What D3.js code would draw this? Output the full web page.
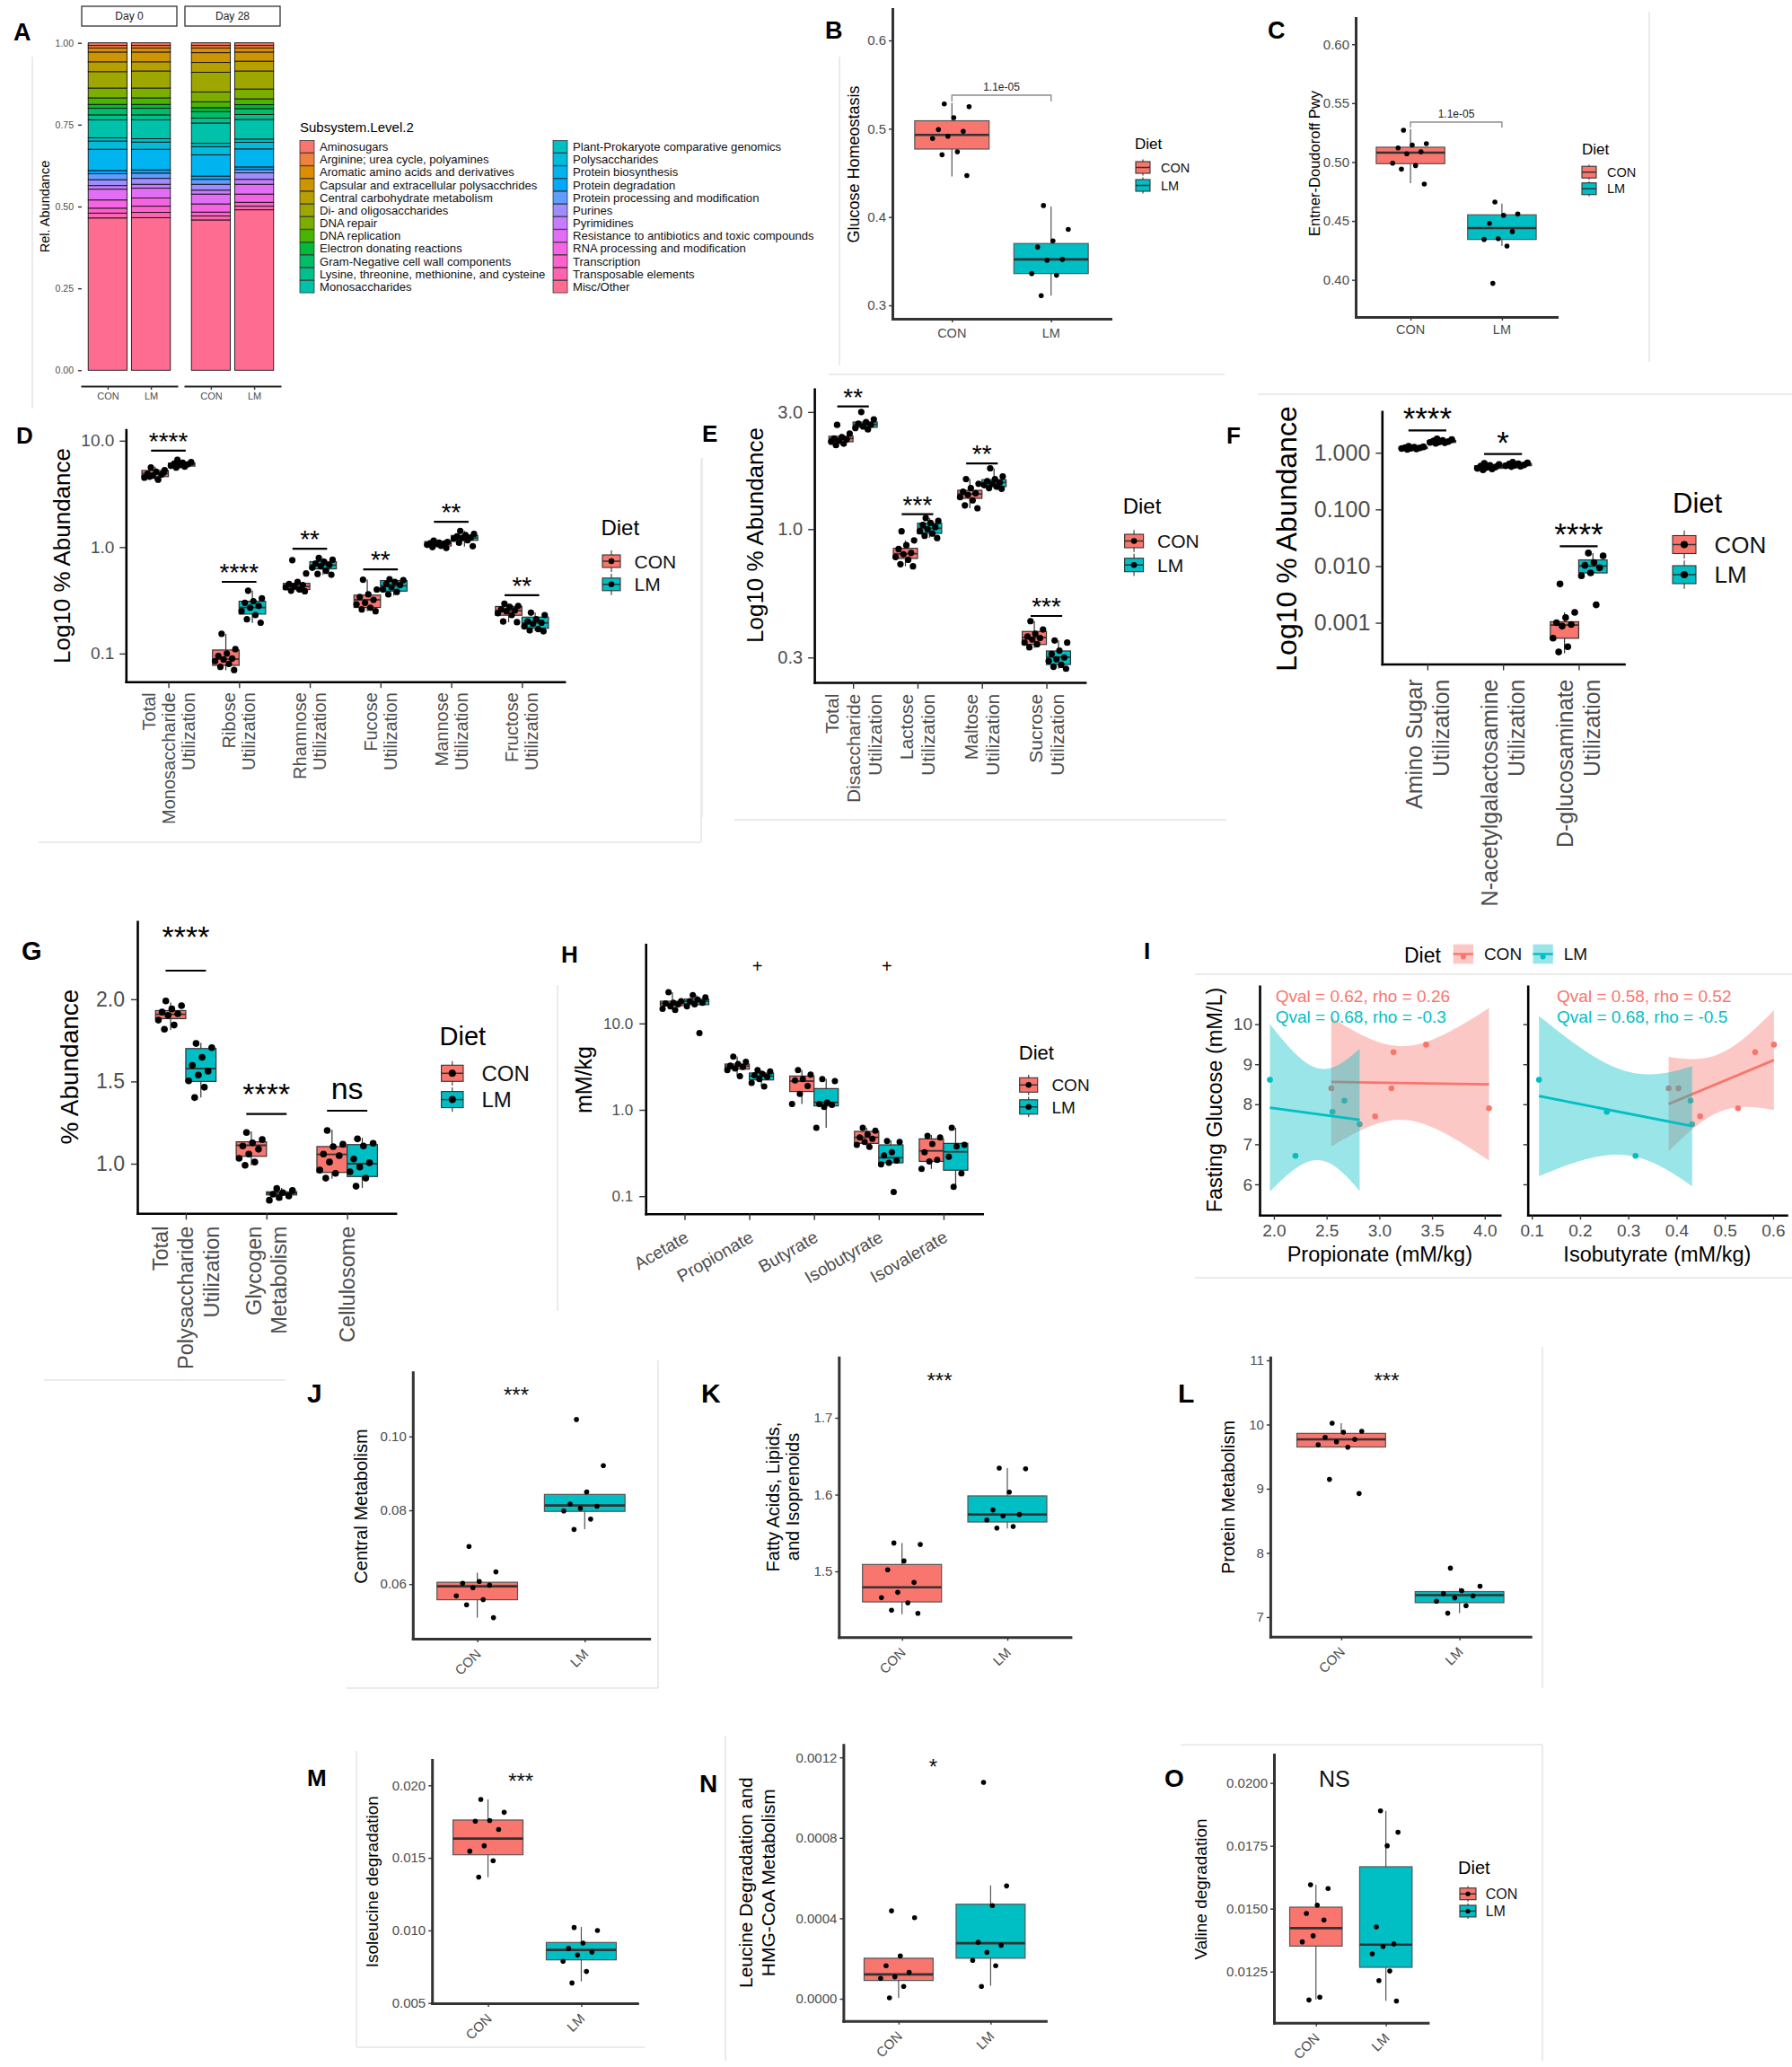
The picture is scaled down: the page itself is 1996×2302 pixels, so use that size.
<!DOCTYPE html>
<html lang="en">
<head>
<meta charset="UTF-8">
<title>Diet and gut microbiome functional profiles</title>
<style>
  html, body { margin: 0; padding: 0; background: #ffffff; }
  svg text { font-family: "Liberation Sans", Arial, Helvetica, sans-serif; }
</style>
</head>
<body>
<div id="fig"></div>
<script src="https://d3js.org/d3.v7.min.js"></script>
<script>
// ---------------- data ----------------
const diets = ["CON", "LM"];

// A: subsystem level 2 relative abundance (top of stack first)
const subsystems = [
  "Aminosugars", "Arginine; urea cycle, polyamines", "Aromatic amino acids and derivatives",
  "Capsular and extracellular polysacchrides", "Central carbohydrate metabolism", "Di- and oligosaccharides",
  "DNA repair", "DNA replication", "Electron donating reactions", "Gram-Negative cell wall components",
  "Lysine, threonine, methionine, and cysteine", "Monosaccharides", "Plant-Prokaryote comparative genomics",
  "Polysaccharides", "Protein biosynthesis", "Protein degradation", "Protein processing and modification",
  "Purines", "Pyrimidines", "Resistance to antibiotics and toxic compounds", "RNA processing and modification",
  "Transcription", "Transposable elements", "Misc/Other"
];
const aDays = ["Day 0", "Day 28"];
const relAbundDay0CON  = [0.008,0.008,0.012,0.030,0.030,0.050,0.030,0.020,0.012,0.020,0.015,0.055,0.010,0.025,0.065,0.010,0.018,0.018,0.011,0.033,0.025,0.015,0.015,0.465];
const relAbundDay0LM   = [0.008,0.008,0.012,0.030,0.028,0.052,0.030,0.020,0.012,0.020,0.015,0.058,0.010,0.022,0.063,0.010,0.016,0.018,0.012,0.030,0.025,0.019,0.016,0.466];
const relAbundDay28CON = [0.008,0.008,0.014,0.030,0.030,0.060,0.030,0.018,0.012,0.020,0.015,0.062,0.010,0.025,0.065,0.010,0.015,0.018,0.012,0.030,0.025,0.012,0.012,0.459];
const relAbundDay28LM  = [0.008,0.008,0.012,0.028,0.030,0.055,0.030,0.018,0.012,0.018,0.015,0.060,0.010,0.020,0.055,0.008,0.010,0.020,0.015,0.030,0.025,0.012,0.011,0.490];
const aTicks = [0, 0.25, 0.5, 0.75, 1];

// B: glucose homeostasis
const bBoxCON = [0.446, 0.477, 0.493, 0.509, 0.529];
const bBoxLM  = [0.311, 0.336, 0.352, 0.370, 0.412];
const bPtsCON = [0.528, 0.525, 0.5125, 0.499, 0.497, 0.4915, 0.489, 0.474, 0.4705, 0.447];
const bPtsLM  = [0.413, 0.386, 0.373, 0.366, 0.352, 0.351, 0.336, 0.334, 0.311];
const bTicks = [0.3, 0.4, 0.5, 0.6];

// C: Entner-Doudoroff pathway
const cBoxCON = [0.482, 0.4986, 0.508, 0.5126, 0.528];
const cBoxLM  = [0.4287, 0.4343, 0.444, 0.4552, 0.4648];
const cPtsCON = [0.527, 0.5156, 0.5144, 0.512, 0.5087, 0.507, 0.499, 0.497, 0.494, 0.4813];
const cPtsLM  = [0.466, 0.456, 0.4548, 0.448, 0.441, 0.435, 0.4343, 0.4287, 0.397];
const cTicks = [0.40, 0.45, 0.50, 0.55, 0.60];
const pvalBC = "1.1e-05";

// D: monosaccharide utilization (box = [lo, q1, median, q3, hi])
const dLabels = [["Total", "Monosaccharide", "Utilization"], ["Ribose", "Utilization"], ["Rhamnose", "Utilization"],
                 ["Fucose", "Utilization"], ["Mannose", "Utilization"], ["Fructose", "Utilization"]];
const dBoxCON = [[4.21,4.6,4.91,5.25,5.69],[0.0697,0.0775,0.0887,0.108,0.153],[0.385,0.40,0.427,0.457,0.47],
                 [0.25,0.271,0.32,0.354,0.495],[0.98,1.026,1.084,1.128,1.15],[0.197,0.229,0.253,0.277,0.294]];
const dBoxLM  = [[5.6,5.77,5.97,6.17,6.6],[0.194,0.235,0.271,0.31,0.39],[0.548,0.625,0.677,0.73,0.79],
                 [0.35,0.386,0.433,0.485,0.495],[1.01,1.158,1.222,1.288,1.42],[0.162,0.173,0.194,0.22,0.242]];
const dPtsCON = [[5.6,5.3,5.1,4.9,4.8,4.7,4.5,4.3,4.6,5.0],[0.153,0.11,0.10,0.095,0.09,0.088,0.085,0.08,0.075,0.07],
                 [0.755,0.566,0.47,0.45,0.44,0.43,0.42,0.40,0.39,0.385],[0.495,0.40,0.36,0.34,0.32,0.30,0.29,0.27,0.26,0.25],
                 [1.15,1.12,1.10,1.09,1.08,1.07,1.05,1.03,1.0,0.98],[0.294,0.28,0.275,0.26,0.255,0.25,0.24,0.23,0.20,0.197]];
const dPtsLM  = [[6.6,6.3,6.2,6.1,6.0,5.9,5.8,5.7,5.6],[0.39,0.33,0.31,0.30,0.28,0.27,0.25,0.23,0.21,0.195],
                 [0.79,0.76,0.73,0.70,0.68,0.66,0.64,0.60,0.56,0.55],[0.50,0.49,0.47,0.45,0.44,0.42,0.40,0.38,0.36],
                 [1.42,1.33,1.30,1.26,1.23,1.22,1.20,1.16,1.10,1.02],[0.242,0.23,0.21,0.20,0.195,0.19,0.18,0.17,0.165,0.162]];
const dSig = ["****", "****", "**", "**", "**", "**"];
const dSigY = [8.06, 0.472, 0.967, 0.618, 1.73, 0.354];

// E: disaccharide utilization
const eLabels = [["Total", "Disaccharide", "Utilization"], ["Lactose", "Utilization"], ["Maltose", "Utilization"], ["Sucrose", "Utilization"]];
const eBoxCON = [[2.2,2.27,2.34,2.39,2.45],[0.706,0.76,0.794,0.835,0.90],[1.217,1.335,1.39,1.44,1.60],[0.328,0.339,0.362,0.383,0.422]];
const eBoxLM  = [[2.55,2.6,2.67,2.73,2.8],[0.922,0.961,1.008,1.057,1.11],[1.46,1.49,1.55,1.59,1.77],[0.27,0.281,0.301,0.319,0.352]];
const ePtsCON = [[2.66,2.45,2.37,2.34,2.32,2.29,2.27,2.23,2.2],[0.98,0.90,0.86,0.83,0.80,0.79,0.77,0.75,0.72,0.706],
                 [1.60,1.53,1.47,1.42,1.40,1.38,1.35,1.31,1.25,1.217],[0.422,0.39,0.375,0.365,0.36,0.355,0.345,0.34,0.33]];
const ePtsLM  = [[3.0,2.8,2.73,2.69,2.66,2.62,2.58,2.55],[1.11,1.08,1.06,1.04,1.02,1.0,0.98,0.96,0.94,0.92],
                 [1.77,1.64,1.60,1.57,1.55,1.53,1.51,1.49,1.47,1.46],[0.352,0.345,0.32,0.31,0.30,0.295,0.29,0.28,0.275,0.27]];
const eSig = ["**", "***", "**", "***"];
const eSigY = [3.16, 1.15, 1.853, 0.443];

// F: amino sugar utilization
const fLabels = [["Amino Sugar", "Utilization"], ["N-acetylgalactosamine", "Utilization"], ["D-glucosaminate", "Utilization"]];
const fBoxCON = [[1.13,1.18,1.22,1.27,1.32],[0.50,0.53,0.556,0.59,0.65],[0.00029,0.000533,0.000907,0.00104,0.00152]];
const fBoxLM  = [[1.45,1.52,1.585,1.65,1.75],[0.56,0.59,0.614,0.645,0.68],[0.0068,0.00757,0.01,0.01286,0.017]];
const fPtsCON = [[1.3,1.27,1.25,1.23,1.22,1.2,1.19,1.17,1.15],[0.65,0.62,0.6,0.58,0.56,0.55,0.53,0.52,0.5],
                 [0.00484,0.00152,0.00123,0.001,0.00093,0.00087,0.000533,0.000377,0.000305]];
const fPtsLM  = [[1.75,1.7,1.65,1.62,1.58,1.55,1.52,1.5,1.47],[0.68,0.66,0.64,0.63,0.61,0.6,0.59,0.58,0.57],
                 [0.017,0.0152,0.0115,0.0103,0.00933,0.00757,0.00677,0.00207]];
const fSig = ["****", "*", "****"];
const fSigY = [2.48, 0.947, 0.0224];

// G: polysaccharide utilization
const gLabels = [["Total", "Polysaccharide", "Utilization"], ["Glycogen", "Metabolism"], ["Cellulosome"]];
const gBoxCON = [[1.814,1.882,1.908,1.931,1.98],[0.99,1.045,1.112,1.133,1.196],[0.908,0.947,1.057,1.104,1.206]];
const gBoxLM  = [[1.402,1.5,1.578,1.7,1.735],[0.778,0.81,0.82,0.829,0.853],[0.853,0.922,1.0,1.116,1.157]];
const gPtsCON = [[1.99,1.961,1.941,1.922,1.912,1.902,1.873,1.843,1.818],[1.19,1.147,1.127,1.108,1.088,1.059,1.033,1.01,0.99],
                 [1.202,1.118,1.104,1.059,1.049,1.01,0.961,0.941,0.912]];
const gPtsLM  = [[1.731,1.706,1.647,1.598,1.563,1.539,1.504,1.465,1.402],[0.849,0.837,0.824,0.814,0.804,0.794,0.778],
                 [1.151,1.124,1.108,1.029,1.006,0.98,0.951,0.912,0.863]];
const gSig = ["****", "****", "ns"];
const gSigY = [2.174, 1.302, 1.322];
const gSigLabelY = [2.317, 1.362, 1.391];

// H: short-chain fatty acids
const hCats = ["Acetate", "Propionate", "Butyrate", "Isobutyrate", "Isovalerate"];
const hBoxCON = [[14.3,16.1,17.1,18.1,23.0],[2.46,2.96,3.21,3.39,4.14],[1.17,1.63,2.15,2.46,2.89],[0.372,0.409,0.48,0.563,0.62],[0.207,0.253,0.335,0.461,0.512]];
const hBoxLM  = [[16.2,16.5,18.1,19.2,21.3],[1.86,2.22,2.46,2.67,2.89],[0.62,1.11,1.22,1.76,2.28],[0.234,0.2435,0.279,0.393,0.443],[0.1286,0.2,0.327,0.409,0.62]];
const hPtsCON = [[23.0,18.1,17.4,17.1,16.7,15.8,14.8,14.3],[4.14,3.59,3.39,3.26,3.13,3.01,2.89,2.46],[2.89,2.56,2.27,2.19,1.89,1.53,1.17],
                 [0.62,0.572,0.52,0.48,0.461,0.426,0.393,0.372],[0.5,0.48,0.403,0.322,0.264,0.253,0.207]];
const hPtsLM  = [[21.3,20.1,18.9,18.1,17.4,16.7,15.8,7.72],[2.89,2.78,2.61,2.52,2.41,2.27,2.05,1.86],[2.27,2.15,1.22,1.17,1.14,1.08,0.62],
                 [0.436,0.426,0.322,0.297,0.258,0.2435,0.234,0.112],[0.62,0.393,0.378,0.286,0.184,0.1286]];
const hSig = ["", "+", "", "+", ""];
const hSigY = [38.7, 38.7, 38.7, 38.7, 38.7];

// I: fasting glucose vs SCFA
const iGluCON  = [8.4, 8.4, 9.3, 9.49, 7.7, 7.9];
const iPropCON = [2.544, 3.115, 3.134, 3.444, 2.96, 4.04];
const iIsoCON  = [0.3835, 0.404, 0.5628, 0.6017, 0.4488, 0.5273];
const iGluLM   = [8.61, 7.81, 6.71, 8.09, 7.5];
const iPropLM  = [1.962, 2.556, 2.204, 2.669, 2.813];
const iIsoLM   = [0.1149, 0.2554, 0.3149, 0.4289, 0.4322];
const iGluTicks = [6, 7, 8, 9, 10];
const iPropTicks = [2.0, 2.5, 3.0, 3.5, 4.0];
const iIsoTicks = [0.1, 0.2, 0.3, 0.4, 0.5, 0.6];
const iStatsProp = ["Qval = 0.62, rho = 0.26", "Qval = 0.68, rho = -0.3"];
const iStatsIso  = ["Qval = 0.58, rho = 0.52", "Qval = 0.68, rho = -0.5"];

// J-O: level-1 / amino acid pathways
const jBoxCON = [0.0509, 0.05576, 0.0594, 0.0605, 0.0631];
const jBoxLM  = [0.0749, 0.0797, 0.0813, 0.0843, 0.0851];
const jPtsCON = [0.0702, 0.0633, 0.0607, 0.0602, 0.0597, 0.059, 0.0568, 0.0558, 0.0544, 0.0509];
const jPtsLM  = [0.1046, 0.0921, 0.085, 0.0817, 0.0811, 0.0805, 0.0798, 0.0776, 0.0748];
const jTicks = [0.06, 0.08, 0.10];

const kBoxCON = [1.4442, 1.4602, 1.4793, 1.509, 1.537];
const kBoxLM  = [1.5558, 1.5643, 1.5741, 1.5983, 1.6345];
const kPtsCON = [1.537, 1.535, 1.5136, 1.502, 1.4856, 1.4727, 1.4657, 1.459, 1.4493, 1.4454];
const kPtsLM  = [1.6345, 1.6337, 1.6033, 1.58, 1.5741, 1.5722, 1.567, 1.5585, 1.5565];
const kTicks = [1.5, 1.6, 1.7];

const lBoxCON = [9.64, 9.65, 9.768, 9.862, 10.02];
const lBoxLM  = [7.061, 7.225, 7.342, 7.398, 7.459];
const lPtsCON = [10.02, 9.894, 9.88, 9.8, 9.768, 9.73, 9.684, 9.646, 9.145, 8.925];
const lPtsLM  = [7.763, 7.482, 7.412, 7.365, 7.33, 7.3, 7.248, 7.178, 7.061];
const lTicks = [7, 8, 9, 10, 11];

const mBoxCON = [0.013666, 0.015213, 0.016328, 0.017607, 0.01903];
const mBoxLM  = [0.006486, 0.007971, 0.008652, 0.009168, 0.010241];
const mPtsCON = [0.01903, 0.01814, 0.01757, 0.01753, 0.01695, 0.01583, 0.01546, 0.0148, 0.01367];
const mPtsLM  = [0.0102, 0.00999, 0.00913, 0.00876, 0.00851, 0.0083, 0.00787, 0.00717, 0.00638];
const mTicks = [0.005, 0.010, 0.015, 0.020];

const nBoxCON = [0.0000045, 0.000091, 0.0001209, 0.0002015, 0.0002179];
const nBoxLM  = [0.0000642, 0.0002015, 0.0002761, 0.00047, 0.000564];
const nPtsCON = [0.000437, 0.000403, 0.0002134, 0.0001642, 0.0001313, 0.000109, 0.0001015, 0.0000612, 0.0000045];
const nPtsLM  = [0.001076, 0.000561, 0.000463, 0.0002806, 0.0002657, 0.0002313, 0.000191, 0.0001642, 0.0000612];
const nTicks = [0, 0.0004, 0.0008, 0.0012];

const oBoxCON = [0.011393, 0.013512, 0.014226, 0.01506, 0.015952];
const oBoxLM  = [0.011333, 0.012667, 0.013571, 0.016667, 0.018893];
const oPtsCON = [0.01595, 0.0158, 0.01514, 0.01481, 0.01455, 0.01392, 0.01368, 0.01148, 0.01137];
const oPtsLM  = [0.01889, 0.01804, 0.0175, 0.01427, 0.0136, 0.0135, 0.0132, 0.01252, 0.01214, 0.01133];
const oTicks = [0.0125, 0.0150, 0.0175, 0.0200];

// ---------------- helpers ----------------
const TXT = "#4D4D4D";
const dietColor = d3.scaleOrdinal().domain(diets).range(["#F8766D", "#00BFC4"]);
const T975 = [NaN, 12.706, 4.303, 3.182, 2.776, 2.571, 2.447, 2.365, 2.306];

const svg = d3.select("#fig").append("svg")
    .attr("width", 1996)
    .attr("height", 2302);
svg.append("rect").attr("width", 1996).attr("height", 2302).attr("fill", "#fff");

// ggplot-style hue palette (polar LUV -> sRGB)
function hueLUV(h, c, l) {
    const WX = 95.047, WY = 100, WZ = 108.883;
    const un = 4 * WX / (WX + 15 * WY + 3 * WZ), vn = 9 * WY / (WX + 15 * WY + 3 * WZ);
    const hr = h * Math.PI / 180;
    const Y = l > 8 ? WY * Math.pow((l + 16) / 116, 3) : WY * l / 903.3;
    const u = c * Math.cos(hr) / (13 * l) + un, v = c * Math.sin(hr) / (13 * l) + vn;
    const X = 9 * Y * u / (4 * v), Z = Y * (12 - 3 * u - 20 * v) / (4 * v);
    const gam = t => {
        t = t <= 0.0031308 ? 12.92 * t : 1.055 * Math.pow(t, 1 / 2.4) - 0.055;
        return Math.round(255 * Math.max(0, Math.min(1, t)));
    };
    return d3.rgb(gam((3.240479 * X - 1.537150 * Y - 0.498535 * Z) / 100),
                  gam((-0.969256 * X + 1.875992 * Y + 0.041556 * Z) / 100),
                  gam((0.055648 * X - 0.204043 * Y + 1.057311 * Z) / 100)).formatHex();
}

const jitter = i => ((i * 0.618034 + 0.31) % 1) * 2 - 1;

function faint(x1, y1, x2, y2) {
    svg.append("line").attr("x1", x1).attr("y1", y1).attr("x2", x2).attr("y2", y2)
        .attr("stroke", "#ebebeb").attr("stroke-width", 2);
}

function styleAxis(a, o) {
    a.attr("font-size", null).attr("font-family", null);
    a.select(".domain").attr("stroke", o.axisColor).attr("stroke-width", o.axisW).attr("stroke-linecap", "square");
    a.selectAll(".tick line").attr("stroke", "#333").attr("stroke-width", 1.4);
    a.selectAll(".tick text").attr("font-size", o.tickFont).attr("fill", TXT);
}

function dietLegend(g, L) {
    g.append("text").attr("x", L.titleX).attr("y", L.titleY)
        .attr("font-size", L.titleSize).attr("fill", "#000").text("Diet");
    diets.forEach((d, i) => {
        const cy = L.keyY + i * L.step, cx = L.x + L.keyW / 2;
        const ext = L.step / 2 - 1;
        g.append("line").attr("x1", cx).attr("x2", cx).attr("y1", cy - ext).attr("y2", cy + ext)
            .attr("stroke", "#333").attr("stroke-width", 1.1);
        g.append("rect").attr("x", L.x).attr("y", cy - L.keyH / 2).attr("width", L.keyW).attr("height", L.keyH)
            .attr("fill", dietColor(d)).attr("stroke", "#333").attr("stroke-width", 1.1);
        g.append("line").attr("x1", L.x).attr("x2", L.x + L.keyW).attr("y1", cy).attr("y2", cy)
            .attr("stroke", "#333").attr("stroke-width", 1.5);
        if (L.dot) g.append("circle").attr("cx", cx).attr("cy", cy).attr("r", L.dot).attr("fill", "#000");
        g.append("text").attr("x", L.labelX).attr("y", cy).attr("dy", "0.36em")
            .attr("font-size", L.labelSize).attr("fill", "#111").text(d);
    });
}

function boxPanel(o) {
    const g = svg.append("g");
    const nCats = o.dodge ? o.boxes.CON.length : 2;
    const y = (o.log ? d3.scaleLog() : d3.scaleLinear()).domain(o.domain).range([o.y1, o.y0]);
    const x = d3.scalePoint().domain(d3.range(nCats)).range([o.x0, o.x1]).padding(0.6);
    const step = x.step();

    // axes
    const gy = g.append("g").attr("transform", `translate(${o.x0},0)`)
        .call(d3.axisLeft(y).tickValues(o.ticks).tickFormat(d3.format(o.fmt))
            .tickSize(o.tickLen).tickPadding(o.tickPad).tickSizeOuter(0));
    const gx = g.append("g").attr("transform", `translate(0,${o.y1})`)
        .call(d3.axisBottom(x).tickFormat("").tickSize(o.tickLen).tickSizeOuter(0));
    styleAxis(gy, o);
    styleAxis(gx, o);

    // boxes
    const items = [];
    for (let c = 0; c < nCats; c++) {
        if (o.dodge) {
            diets.forEach((d, k) => items.push({
                cx: x(c) + (k ? 1 : -1) * step * 0.1875, w: step * 0.375,
                box: o.boxes[d][c], pts: o.pts[d][c], fill: dietColor(d)
            }));
        } else {
            const d = diets[c];
            items.push({ cx: x(c), w: step * 0.75, box: o.boxes[d], pts: o.pts[d], fill: dietColor(d) });
        }
    }
    const bx = g.selectAll(".bx").data(items).join("g").attr("class", "bx");
    bx.append("line")
        .attr("x1", d => d.cx).attr("x2", d => d.cx)
        .attr("y1", d => y(d.box[4])).attr("y2", d => y(d.box[0]))
        .attr("stroke", o.boxLine).attr("stroke-width", 1.2);
    bx.append("rect")
        .attr("x", d => d.cx - d.w / 2).attr("width", d => d.w)
        .attr("y", d => y(d.box[3])).attr("height", d => y(d.box[1]) - y(d.box[3]))
        .attr("fill", d => d.fill).attr("stroke", o.boxLine).attr("stroke-width", 1.2);
    bx.append("line")
        .attr("x1", d => d.cx - d.w / 2).attr("x2", d => d.cx + d.w / 2)
        .attr("y1", d => y(d.box[2])).attr("y2", d => y(d.box[2]))
        .attr("stroke", "#333").attr("stroke-width", o.medW);
    bx.selectAll("circle")
        .data(d => d.pts.map((v, i) => ({ v, px: d.cx + jitter(i) * d.w * o.jit })))
        .join("circle")
        .attr("cx", p => p.px).attr("cy", p => y(p.v)).attr("r", o.ptR).attr("fill", "#000");

    // category labels
    o.xLabels.forEach((lines, c) => {
        if (o.xAngle === 90) {
            lines.forEach((t, k) => {
                const xx = x(c) + (k - (lines.length - 1) / 2) * o.xLineH;
                g.append("text").attr("transform", `translate(${xx},${o.y1 + o.xGap}) rotate(-90)`)
                    .attr("text-anchor", "end").attr("dy", "0.35em")
                    .attr("font-size", o.xFont).attr("fill", TXT).text(t);
            });
        } else if (o.xAngle) {
            g.append("text").attr("transform", `translate(${x(c) + o.xDx},${o.y1 + o.xGap}) rotate(${-o.xAngle})`)
                .attr("text-anchor", "end").attr("font-size", o.xFont).attr("fill", TXT).text(lines[0]);
        } else {
            g.append("text").attr("x", x(c)).attr("y", o.y1 + o.xGap).attr("text-anchor", "middle")
                .attr("font-size", o.xFont).attr("fill", TXT).text(lines[0]);
        }
    });

    // y title
    o.yTitle.forEach((t, k) => {
        const xx = o.yTitleX + (k - (o.yTitle.length - 1) / 2) * (o.yTitleLH || 0);
        g.append("text").attr("transform", `translate(${xx},${o.yTitleY}) rotate(-90)`)
            .attr("text-anchor", "middle").attr("dy", "0.35em")
            .attr("font-size", o.yTitleFont).attr("fill", "#000").text(t);
    });

    // significance marks
    if (o.sig) {
        o.sig.labels.forEach((lab, c) => {
            if (!lab) return;
            if (o.sig.bar) {
                const by = y(o.sig.bar[c]);
                g.append("line").attr("x1", x(c) - o.sig.half * step).attr("x2", x(c) + o.sig.half * step)
                    .attr("y1", by).attr("y2", by).attr("stroke", "#000").attr("stroke-width", 2.2);
            }
            const ly = o.sig.lab ? y(o.sig.lab[c]) : y(o.sig.bar[c]) - o.sig.gap;
            g.append("text").attr("x", x(c) + (o.sig.dx || 0)).attr("y", ly).attr("text-anchor", "middle")
                .attr("font-size", o.sig.size).attr("fill", "#000").text(lab);
        });
    }
    if (o.bracket) {
        const by = y(o.bracket.y), xa = x(0), xb = x(1);
        g.append("path").attr("d", `M${xa},${by + o.bracket.tip}V${by}H${xb}V${by + o.bracket.tip}`)
            .attr("fill", "none").attr("stroke", "#8c8c8c").attr("stroke-width", 1.4);
        g.append("text").attr("x", (xa + xb) / 2).attr("y", by - 5).attr("text-anchor", "middle")
            .attr("font-size", o.bracket.size).attr("fill", "#222").text(o.bracket.label);
    }
    if (o.note) {
        g.append("text").attr("x", o.note.x).attr("y", o.note.y).attr("text-anchor", "middle")
            .attr("font-size", o.note.size).attr("fill", "#111").text(o.note.text);
    }
    if (o.legend) dietLegend(g, o.legend);
}

function lmFit(xs, ys) {
    const n = xs.length, mx = d3.mean(xs), my = d3.mean(ys);
    const sxx = d3.sum(xs, v => (v - mx) ** 2);
    const sxy = d3.sum(xs, (v, i) => (v - mx) * (ys[i] - my));
    const b = sxy / sxx, a = my - b * mx;
    const s = Math.sqrt(d3.sum(xs, (v, i) => (ys[i] - a - b * v) ** 2) / (n - 2));
    const t = T975[n - 2];
    return { fit: v => a + b * v, half: v => t * s * Math.sqrt(1 / n + (v - mx) ** 2 / sxx) };
}

// ---------------- faint panel borders ----------------
faint(36, 63, 36, 455);
faint(935, 63, 935, 407); faint(923, 417, 1364, 417);
faint(1837, 13, 1837, 403);
faint(781, 511, 781, 937); faint(43, 938, 781, 938);
faint(782, 510, 782, 910); faint(818, 913, 1366, 913);
faint(1401, 439, 1996, 439);
faint(49, 1537, 318, 1537);
faint(621, 1097, 621, 1460);
faint(1331, 1085, 1996, 1085); faint(1331, 1423, 1996, 1423);
faint(733, 1515, 733, 1880); faint(386, 1880, 733, 1880);
faint(1718, 1500, 1718, 1880);
faint(397, 1950, 397, 2280); faint(397, 2280, 718, 2280);
faint(808, 1933, 808, 2295);
faint(1315, 1943, 1718, 1943); faint(1718, 1943, 1718, 2295);

// ---------------- panel A ----------------
(function () {
    const g = svg.append("g");
    const bars = [relAbundDay0CON, relAbundDay0LM, relAbundDay28CON, relAbundDay28LM];
    const rows = bars.map((vals, i) => {
        const r = { day: aDays[i >> 1], diet: diets[i % 2] };
        subsystems.forEach((s, k) => { r[s] = vals[k]; });
        return r;
    });
    const series = d3.stack().keys(subsystems.slice().reverse())(rows);
    const subColor = d3.scaleOrdinal().domain(subsystems)
        .range(subsystems.map((s, i) => hueLUV(15 + 15 * i, 100, 65)));
    const y = d3.scaleLinear().domain([0, 1]).range([412.3, 47.7]);
    const panels = [[91, 197], [206, 312]];

    aDays.forEach((day, f) => {
        const x = d3.scalePoint().domain(diets).range(panels[f]).padding(0.6);
        const bw = x.step() * 0.9;
        g.append("rect").attr("x", panels[f][0]).attr("y", 7)
            .attr("width", panels[f][1] - panels[f][0]).attr("height", 22)
            .attr("fill", "#fff").attr("stroke", "#333").attr("stroke-width", 1.3);
        g.append("text").attr("x", d3.mean(panels[f])).attr("y", 18).attr("dy", "0.36em")
            .attr("text-anchor", "middle").attr("font-size", 12).attr("fill", "#1a1a1a").text(day);
        series.forEach(layer => {
            g.selectAll(null).data(layer.filter(s => s.data.day === day)).join("rect")
                .attr("x", s => x(s.data.diet) - bw / 2).attr("width", bw)
                .attr("y", s => y(s[1])).attr("height", s => y(s[0]) - y(s[1]))
                .attr("fill", subColor(layer.key)).attr("stroke", "#111").attr("stroke-width", 0.9);
        });
        const gx = g.append("g").attr("transform", "translate(0,430)")
            .call(d3.axisBottom(x).tickSize(4).tickPadding(3).tickSizeOuter(0));
        styleAxis(gx, { axisColor: "#222", axisW: 2, tickFont: 11 });
    });
    const gy = g.append("g").attr("transform", "translate(91,0)")
        .call(d3.axisLeft(y).tickValues(aTicks).tickFormat(d3.format(".2f")).tickSize(4).tickPadding(5));
    styleAxis(gy, { axisColor: "#222", axisW: 1, tickFont: 10.5 });
    gy.select(".domain").remove();
    g.append("text").attr("transform", "translate(50,230) rotate(-90)").attr("text-anchor", "middle")
        .attr("dy", "0.35em").attr("font-size", 14.5).attr("fill", "#000").text("Rel. Abundance");

    // legend
    g.append("text").attr("x", 334).attr("y", 147).attr("font-size", 15).attr("fill", "#000").text("Subsystem.Level.2");
    subsystems.forEach((s, i) => {
        const col = Math.floor(i / 12), row = i % 12;
        const kx = col ? 616 : 334, cy = 163.3 + row * 14.18;
        g.append("rect").attr("x", kx).attr("y", cy - 6.8).attr("width", 16).attr("height", 13.6)
            .attr("fill", subColor(s)).attr("stroke", "#222").attr("stroke-width", 0.7);
        g.append("text").attr("x", kx + 22).attr("y", cy).attr("dy", "0.36em")
            .attr("font-size", 13.1).attr("fill", "#111").text(s);
    });
})();

// ---------------- panels B, C ----------------
const smallStyle = { axisColor: "#333", axisW: 3, boxLine: "#555", medW: 2.6, tickLen: 4, tickPad: 3, ptR: 2.8, jit: 0.27 };

boxPanel(Object.assign({}, smallStyle, {
    x0: 994, x1: 1237, y0: 10, y1: 355, domain: [0.2848, 0.6356],
    ticks: bTicks, fmt: ".1f", tickFont: 15,
    boxes: { CON: bBoxCON, LM: bBoxLM }, pts: { CON: bPtsCON, LM: bPtsLM },
    xLabels: [["CON"], ["LM"]], xAngle: 0, xGap: 21, xFont: 14.5,
    yTitle: ["Glucose Homeostasis"], yTitleX: 951, yTitleY: 183, yTitleFont: 18,
    bracket: { y: 0.538, tip: 7, label: pvalBC, size: 12 },
    legend: { x: 1265, titleX: 1264, titleY: 166, titleSize: 17, keyY: 186.5, keyW: 16, keyH: 13, step: 20,
              labelX: 1293, labelSize: 14.5, dot: 0 }
}));

boxPanel(Object.assign({}, smallStyle, {
    x0: 1510, x1: 1734, y0: 20, y1: 353, domain: [0.3685, 0.6223],
    ticks: cTicks, fmt: ".2f", tickFont: 15,
    boxes: { CON: cBoxCON, LM: cBoxLM }, pts: { CON: cPtsCON, LM: cPtsLM },
    xLabels: [["CON"], ["LM"]], xAngle: 0, xGap: 19, xFont: 14.5,
    yTitle: ["Entner-Doudoroff Pwy"], yTitleX: 1464, yTitleY: 182, yTitleFont: 16.5,
    bracket: { y: 0.5339, tip: 6, label: pvalBC, size: 12 },
    legend: { x: 1762, titleX: 1762, titleY: 171.5, titleSize: 17, keyY: 191.7, keyW: 16, keyH: 13, step: 18.5,
              labelX: 1790, labelSize: 14.5, dot: 0 }
}));

// ---------------- panels D - H (ggpubr style) ----------------
const pubStyle = { axisColor: "#000", axisW: 2.6, boxLine: "#333", medW: 1.8, tickLen: 7, tickPad: 6, jit: 0.42, dodge: true, xAngle: 90 };

boxPanel(Object.assign({}, pubStyle, {
    x0: 140.3, x1: 628.6, y0: 478.5, y1: 759.2, log: true, domain: [0.0544, 12.7],
    ticks: [0.1, 1, 10], fmt: ".1f", tickFont: 19, ptR: 3.6,
    boxes: { CON: dBoxCON, LM: dBoxLM }, pts: { CON: dPtsCON, LM: dPtsLM },
    xLabels: dLabels, xGap: 12, xFont: 20, xLineH: 22,
    yTitle: ["Log10 % Abundance"], yTitleX: 69, yTitleY: 619, yTitleFont: 26,
    sig: { labels: dSig, bar: dSigY, half: 0.245, gap: 1, size: 28 },
    legend: { x: 671, titleX: 669.4, titleY: 595.6, titleSize: 24, keyY: 625, keyW: 20, keyH: 14, step: 25.8,
              labelX: 706.6, labelSize: 21, dot: 3.3 }
}));

boxPanel(Object.assign({}, pubStyle, {
    x0: 907.1, x1: 1208.6, y0: 433.3, y1: 760, log: true, domain: [0.2375, 3.72],
    ticks: [0.3, 1, 3], fmt: ".1f", tickFont: 20, ptR: 3.6,
    boxes: { CON: eBoxCON, LM: eBoxLM }, pts: { CON: ePtsCON, LM: ePtsLM },
    xLabels: eLabels, xGap: 12.7, xFont: 21, xLineH: 24,
    yTitle: ["Log10 % Abundance"], yTitleX: 841.2, yTitleY: 596, yTitleFont: 26,
    sig: { labels: eSig, bar: eSigY, half: 0.245, gap: 1, size: 28 },
    legend: { x: 1252.6, titleX: 1250.7, titleY: 571.7, titleSize: 24, keyY: 602.5, keyW: 21, keyH: 15, step: 26.7,
              labelX: 1289, labelSize: 21, dot: 3.3 }
}));

boxPanel(Object.assign({}, pubStyle, {
    x0: 1539.3, x1: 1809, y0: 458.3, y1: 739.5, log: true, domain: [0.000187, 5.34],
    ticks: [0.001, 0.01, 0.1, 1], fmt: ".3f", tickFont: 25, ptR: 3.8,
    boxes: { CON: fBoxCON, LM: fBoxLM }, pts: { CON: fPtsCON, LM: fPtsLM },
    xLabels: fLabels, xGap: 17, xFont: 25, xLineH: 30,
    yTitle: ["Log10 % Abundance"], yTitleX: 1433, yTitleY: 600, yTitleFont: 32,
    sig: { labels: fSig, bar: fSigY, half: 0.25, gap: 1, size: 35 },
    legend: { x: 1863, titleX: 1863, titleY: 571, titleSize: 31, keyY: 606.5, keyW: 26, keyH: 20, step: 33.5,
              labelX: 1909.6, labelSize: 26, dot: 4 }
}));

boxPanel(Object.assign({}, pubStyle, {
    x0: 153, x1: 440.6, y0: 1026.4, y1: 1351.3, log: false, domain: [0.698, 2.472],
    ticks: [1.0, 1.5, 2.0], fmt: ".1f", tickFont: 23, tickPad: 7, ptR: 3.8,
    boxes: { CON: gBoxCON, LM: gBoxLM }, pts: { CON: gPtsCON, LM: gPtsLM },
    xLabels: gLabels, xGap: 14.3, xFont: 23.5, xLineH: 28.6,
    yTitle: ["% Abundance"], yTitleX: 77.5, yTitleY: 1188, yTitleFont: 28,
    sig: { labels: gSig, bar: gSigY, lab: gSigLabelY, half: 0.25, size: 34 },
    legend: { x: 491.6, titleX: 489.6, titleY: 1164, titleSize: 29, keyY: 1195.3, keyW: 24.4, keyH: 18, step: 29.3,
              labelX: 536.5, labelSize: 24, dot: 4 }
}));

boxPanel(Object.assign({}, pubStyle, {
    x0: 719.2, x1: 1094.2, y0: 1051.7, y1: 1351.7, log: true, domain: [0.0627, 82.4],
    ticks: [0.1, 1, 10], fmt: ".1f", tickFont: 17, tickPad: 7, ptR: 3.5,
    boxes: { CON: hBoxCON, LM: hBoxLM }, pts: { CON: hPtsCON, LM: hPtsLM },
    xLabels: hCats.map(c => [c]), xAngle: 30, xGap: 30, xDx: 6, xFont: 19.5,
    yTitle: ["mM/kg"], yTitleX: 650, yTitleY: 1202.5, yTitleFont: 25,
    sig: { labels: hSig, lab: hSigY, dx: 9, size: 20 },
    legend: { x: 1135.7, titleX: 1134.8, titleY: 1180, titleSize: 22, keyY: 1208.3, keyW: 20, keyH: 16, step: 24.5,
              labelX: 1171.4, labelSize: 19, dot: 3.2 }
}));

// ---------------- panel I ----------------
(function () {
    const g = svg.append("g");
    const y = d3.scaleLinear().domain([5.23, 10.95]).range([1353.3, 1098.3]);
    const glu = { CON: iGluCON, LM: iGluLM };
    const facets = [
        { x0: 1403, x1: 1670.7, dom: [1.864, 4.144], ticks: iPropTicks, title: "Propionate (mM/kg)",
          xs: { CON: iPropCON, LM: iPropLM }, stats: iStatsProp, statX: 1420.7, yLab: true },
        { x0: 1701.7, x1: 1990, dom: [0.0916, 0.628], ticks: iIsoTicks, title: "Isobutyrate (mM/kg)",
          xs: { CON: iIsoCON, LM: iIsoLM }, stats: iStatsIso, statX: 1734.1, yLab: false }
    ];
    const st = { axisColor: "#000", axisW: 2.6, tickFont: 19 };
    facets.forEach(f => {
        const x = d3.scaleLinear().domain(f.dom).range([f.x0, f.x1]);
        const gy = g.append("g").attr("transform", `translate(${f.x0},0)`)
            .call(d3.axisLeft(y).tickValues(iGluTicks).tickSize(5).tickPadding(3).tickSizeOuter(0)
                .tickFormat(f.yLab ? d3.format("d") : ""));
        const gx = g.append("g").attr("transform", "translate(0,1353.3)")
            .call(d3.axisBottom(x).tickValues(f.ticks).tickFormat(d3.format(".1f"))
                .tickSize(5).tickPadding(5).tickSizeOuter(0));
        styleAxis(gy, st);
        styleAxis(gx, st);

        diets.forEach(d => {
            g.selectAll(null).data(f.xs[d]).join("circle")
                .attr("cx", v => x(v)).attr("cy", (v, i) => y(glu[d][i]))
                .attr("r", 3.3).attr("fill", dietColor(d));
        });
        diets.forEach(d => {
            const m = lmFit(f.xs[d], glu[d]);
            const [lo, hi] = d3.extent(f.xs[d]);
            const grid = d3.range(81).map(i => lo + (hi - lo) * i / 80);
            const band = d3.area().x(v => x(v))
                .y0(v => y(m.fit(v) - m.half(v))).y1(v => y(m.fit(v) + m.half(v)));
            g.append("path").attr("d", band(grid)).attr("fill", dietColor(d)).attr("fill-opacity", 0.4);
            g.append("line").attr("x1", x(lo)).attr("x2", x(hi)).attr("y1", y(m.fit(lo))).attr("y2", y(m.fit(hi)))
                .attr("stroke", dietColor(d)).attr("stroke-width", 2.8);
        });
        f.stats.forEach((s, k) => {
            g.append("text").attr("x", f.statX).attr("y", 1116 + k * 23)
                .attr("font-size", 19).attr("fill", dietColor(diets[k])).text(s);
        });
        g.append("text").attr("x", (f.x0 + f.x1) / 2).attr("y", 1405).attr("text-anchor", "middle")
            .attr("font-size", 23.5).attr("fill", "#000").text(f.title);
    });
    g.append("text").attr("transform", "translate(1352.4,1225) rotate(-90)").attr("text-anchor", "middle")
        .attr("dy", "0.35em").attr("font-size", 23.5).attr("fill", "#000").text("Fasting Glucose (mM/L)");

    // legend (top)
    g.append("text").attr("x", 1564).attr("y", 1071.7).attr("font-size", 23).attr("fill", "#000").text("Diet");
    diets.forEach((d, i) => {
        const kx = i ? 1707.5 : 1618.7, cy = 1062.5;
        g.append("rect").attr("x", kx).attr("y", cy - 10.8).attr("width", 22.3).attr("height", 21.6)
            .attr("fill", dietColor(d)).attr("fill-opacity", 0.4);
        g.append("line").attr("x1", kx).attr("x2", kx + 22.3).attr("y1", cy).attr("y2", cy)
            .attr("stroke", dietColor(d)).attr("stroke-width", 2.4);
        g.append("circle").attr("cx", kx + 11.15).attr("cy", cy + 3).attr("r", 3).attr("fill", dietColor(d));
        g.append("text").attr("x", kx + 34.2).attr("y", cy).attr("dy", "0.36em")
            .attr("font-size", 19).attr("fill", "#111").text(d);
    });
})();

// ---------------- panels J - O ----------------
const angStyle = Object.assign({}, smallStyle, {
    tickFont: 15, xLabels: [["CON"], ["LM"]], xAngle: 45, xGap: 18, xDx: 5, xFont: 15
});

boxPanel(Object.assign({}, angStyle, {
    x0: 459.8, x1: 723.1, y0: 1528.3, y1: 1825, domain: [0.0452, 0.1174], ticks: jTicks, fmt: ".2f",
    boxes: { CON: jBoxCON, LM: jBoxLM }, pts: { CON: jPtsCON, LM: jPtsLM },
    yTitle: ["Central Metabolism"], yTitleX: 401.6, yTitleY: 1677.5, yTitleFont: 20,
    note: { text: "***", x: 575, y: 1562, size: 24 }
}));
boxPanel(Object.assign({}, angStyle, {
    x0: 934.3, x1: 1192.4, y0: 1511.7, y1: 1823.3, domain: [1.4143, 1.7787], ticks: kTicks, fmt: ".1f",
    boxes: { CON: kBoxCON, LM: kBoxLM }, pts: { CON: kPtsCON, LM: kPtsLM },
    yTitle: ["Fatty Acids, Lipids,", "and Isoprenoids"], yTitleX: 872, yTitleLH: 22.5, yTitleY: 1667, yTitleFont: 20,
    note: { text: "***", x: 1046.5, y: 1546, size: 24 }
}));
boxPanel(Object.assign({}, angStyle, {
    x0: 1414.9, x1: 1704.7, y0: 1511.7, y1: 1822.7, domain: [6.696, 11.046], ticks: lTicks, fmt: "d",
    boxes: { CON: lBoxCON, LM: lBoxLM }, pts: { CON: lPtsCON, LM: lPtsLM },
    yTitle: ["Protein Metabolism"], yTitleX: 1368, yTitleY: 1667.5, yTitleFont: 20,
    note: { text: "***", x: 1544.5, y: 1546, size: 24 }
}));
boxPanel(Object.assign({}, angStyle, {
    x0: 481.2, x1: 709.8, y0: 1960, y1: 2231, domain: [0.00498, 0.02175], ticks: mTicks, fmt: ".3f",
    boxes: { CON: mBoxCON, LM: mBoxLM }, pts: { CON: mPtsCON, LM: mPtsLM },
    yTitle: ["Isoleucine degradation"], yTitleX: 413.9, yTitleY: 2095.7, yTitleFont: 19,
    note: { text: "***", x: 580.2, y: 1992, size: 24 }
}));
boxPanel(Object.assign({}, angStyle, {
    x0: 939.4, x1: 1164.9, y0: 1943.3, y1: 2250.7, domain: [-0.0001103, 0.001262], ticks: nTicks, fmt: ".4f",
    boxes: { CON: nBoxCON, LM: nBoxLM }, pts: { CON: nPtsCON, LM: nPtsLM },
    yTitle: ["Leucine Degradation and", "HMG-CoA Metabolism"], yTitleX: 843, yTitleLH: 25.5, yTitleY: 2096.7, yTitleFont: 21,
    note: { text: "*", x: 1039.4, y: 1976, size: 24 }
}));
boxPanel(Object.assign({}, angStyle, {
    x0: 1419, x1: 1590.4, y0: 1954, y1: 2252.7, domain: [0.010464, 0.02113], ticks: oTicks, fmt: ".4f",
    boxes: { CON: oBoxCON, LM: oBoxLM }, pts: { CON: oPtsCON, LM: oPtsLM },
    yTitle: ["Valine degradation"], yTitleX: 1337.3, yTitleY: 2104, yTitleFont: 19,
    note: { text: "NS", x: 1486.3, y: 1990, size: 25 },
    legend: { x: 1626, titleX: 1624, titleY: 2087, titleSize: 20, keyY: 2109.2, keyW: 18, keyH: 13, step: 19.2,
              labelX: 1654.7, labelSize: 16, dot: 2.6 }
}));

// ---------------- panel letters ----------------
[["A", 15, 45, 27], ["B", 919, 43, 27], ["C", 1412, 43, 27], ["D", 18, 494, 26], ["E", 782, 492, 26],
 ["F", 1366, 494, 26], ["G", 24, 1069, 29], ["H", 625, 1072, 26], ["I", 1274, 1068, 26],
 ["J", 342, 1562, 30], ["K", 781, 1562, 30], ["L", 1312, 1562, 30],
 ["M", 342, 1989, 26], ["N", 779, 1996, 28], ["O", 1297, 1990, 28]].forEach(([t, x, y, s]) => {
    svg.append("text").attr("x", x).attr("y", y).attr("font-size", s)
        .attr("font-weight", "bold").attr("fill", "#000").text(t);
});
</script>
</body>
</html>
